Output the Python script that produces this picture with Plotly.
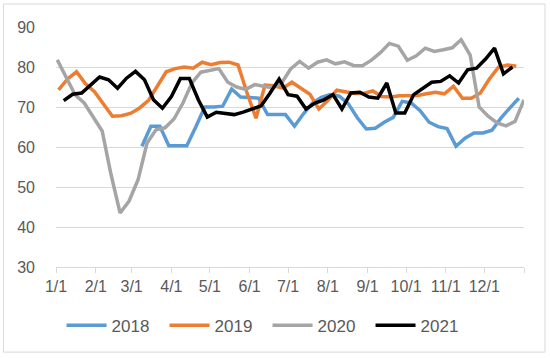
import pandas as pd
import plotly.graph_objects as go

# ---- data (weekly readings, mapped onto a common calendar year) ----
tick_vals = ["2021-01-01", "2021-02-01", "2021-03-01", "2021-04-01", "2021-05-01", "2021-06-01",
             "2021-07-01", "2021-08-01", "2021-09-01", "2021-10-01", "2021-11-01", "2021-12-01",
             "2022-01-01"]
tick_text = ["1/1", "2/1", "3/1", "4/1", "5/1", "6/1", "7/1", "8/1", "9/1", "10/1", "11/1", "12/1", ""]

start_2018 = "2021-03-09"
values_2018 = [60.2, 65.2, 65.2, 60.3, 60.3, 60.3, 65.0, 70.0, 70.0, 70.2, 74.5, 72.5, 72.4, 72.2,
               68.1, 68.1, 68.1, 65.2, 68.3, 71.0, 72.4, 73.1, 72.7, 70.8, 67.3, 64.5, 64.7, 66.2,
               67.4, 71.4, 71.0, 69.1, 66.2, 65.1, 64.6, 60.2, 62.2, 63.5, 63.5, 64.2, 67.2, 69.8,
               72.2]

start_2019 = "2021-01-03"
values_2019 = [74.3, 77.0, 78.8, 75.8, 73.8, 70.8, 67.7, 67.8, 68.4, 69.7, 71.6, 75.2, 78.8, 79.6,
               80.0, 79.7, 81.2, 80.6, 81.1, 81.2, 80.5, 73.5, 67.2, 75.5, 75.3, 74.7, 76.2, 74.7,
               73.2, 69.5, 71.6, 74.2, 73.9, 73.4, 73.4, 74.0, 72.6, 72.5, 72.8, 72.8, 72.9, 73.3,
               73.7, 73.3, 75.2, 72.2, 72.2, 73.5, 77.0, 79.9, 80.5, 80.2]

start_2020 = "2021-01-02"
values_2020 = [81.8, 77.5, 73.0, 71.0, 67.5, 64.0, 53.0, 43.5, 46.5, 51.8, 61.0, 64.3, 64.8, 67.0,
               71.0, 76.0, 78.7, 79.1, 79.6, 76.2, 75.0, 74.4, 75.6, 75.2, 74.8, 76.0, 79.5, 81.4,
               79.7, 81.2, 81.8, 80.8, 81.3, 80.4, 80.3, 81.7, 83.6, 85.9, 85.2, 81.7, 82.8, 84.7,
               83.9, 84.3, 84.8, 86.8, 83.0, 70.0, 67.7, 66.0, 65.3, 66.4, 71.8]

start_2021 = "2021-01-07"
values_2021 = [71.6, 73.2, 73.5, 75.6, 77.5, 76.8, 74.7, 77.2, 78.9, 76.8, 71.8, 69.7, 72.6, 77.1,
               77.1, 71.8, 67.5, 68.7, 68.3, 68.1, 68.7, 69.5, 70.3, 73.5, 77.0, 73.1, 72.7, 69.5,
               71.0, 71.8, 73.1, 69.5, 73.5, 73.7, 72.5, 72.2, 76.0, 68.5, 68.5, 73.1, 74.7, 76.2,
               76.4, 77.8, 76.0, 79.3, 79.7, 82.0, 84.7, 78.3, 80.0]

series = [
    ("2018", start_2018, values_2018, "#5B9BD5"),
    ("2019", start_2019, values_2019, "#ED7D31"),
    ("2020", start_2020, values_2020, "#A5A5A5"),
    ("2021", start_2021, values_2021, "#000000"),
]

FONT = "Liberation Sans"
TXT = "#595959"
GRID = "#D9D9D9"

fig = go.Figure()
for name, start, vals, color in series:
    dates = pd.date_range(start, periods=len(vals), freq="7D")
    fig.add_trace(go.Scatter(
        x=dates, y=vals, name=name, mode="lines",
        line=dict(color=color, width=3.5),
    ))

fig.update_layout(
    width=550, height=358,
    margin=dict(l=56, r=26, t=27, b=91, autoexpand=False),
    paper_bgcolor="white", plot_bgcolor="white",
    font=dict(family=FONT, color=TXT, size=16),
    showlegend=True,
    legend=dict(
        orientation="h", x=0.452, xanchor="center",
        y=-0.245, yanchor="middle",
        font=dict(size=17, color=TXT, family=FONT),
        itemwidth=40, entrywidth=48, entrywidthmode="pixels",
        bgcolor="rgba(0,0,0,0)",
    ),
    xaxis=dict(
        type="date", range=["2021-01-01", "2022-01-01"],
        tickmode="array", tickvals=tick_vals, ticktext=tick_text, tickangle=0,
        showgrid=False, showline=True, linecolor=GRID, linewidth=1,
        ticks="outside", ticklen=5, tickcolor=GRID, tickwidth=1,
        tickfont=dict(size=16, color=TXT, family=FONT),
        zeroline=False,
    ),
    yaxis=dict(
        range=[30, 90], dtick=10, tick0=30,
        showgrid=True, gridcolor=GRID, gridwidth=1,
        showline=False, zeroline=False, ticks="",
        ticklabelstandoff=20,
        tickfont=dict(size=16, color=TXT, family=FONT),
    ),
    shapes=[dict(
        type="rect", xref="paper", yref="paper",
        x0=-0.1122, x1=1.0449, y0=-0.3546, y1=1.0957,
        line=dict(color=GRID, width=1), fillcolor="rgba(0,0,0,0)", layer="below",
    )],
)

fig.write_html("out.html", config={"displayModeBar": False},
               post_script="document.body.style.margin='0';")
